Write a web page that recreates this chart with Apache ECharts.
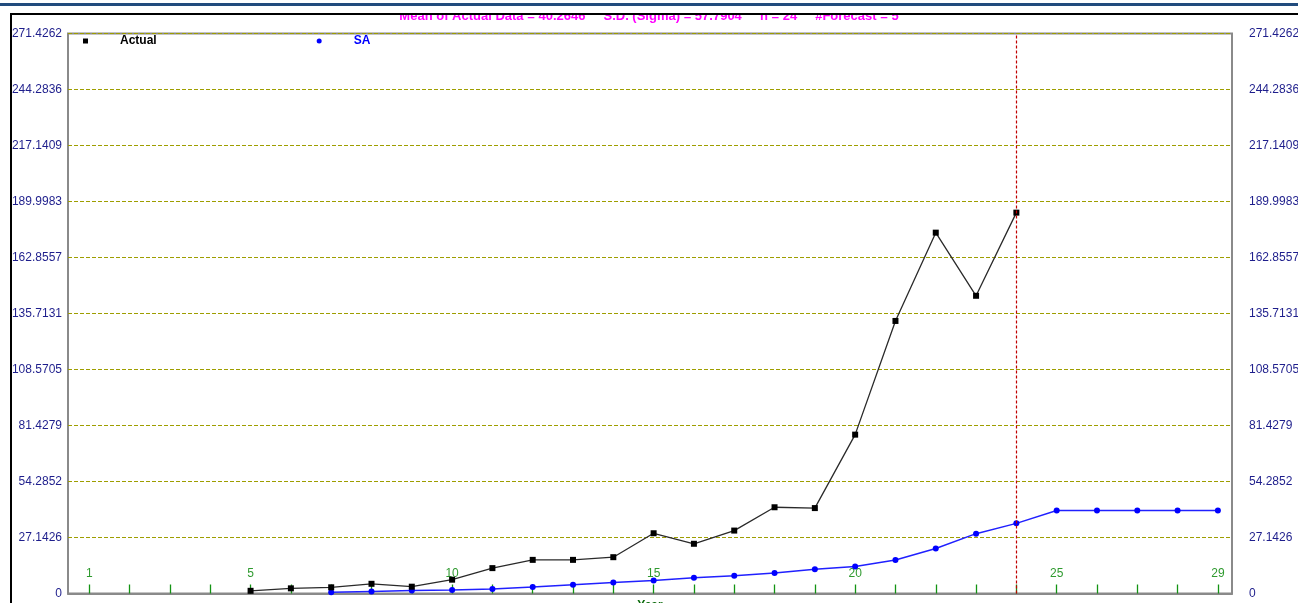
<!DOCTYPE html>
<html>
<head>
<meta charset="utf-8">
<title>Actual vs SA</title>
<script src="https://cdn.jsdelivr.net/npm/echarts@6/dist/echarts.min.js"></script>
<style>
  html, body { margin: 0; padding: 0; background: #ffffff; }
  #chart { width: 1298px; height: 603px; }
</style>
</head>
<body>
<div id="chart"></div>
<script>
// Year index for every period (24 observed + 5 forecast)
const years = [1, 2, 3, 4, 5, 6, 7, 8, 9, 10, 11, 12, 13, 14, 15, 16, 17, 18, 19, 20, 21, 22, 23, 24, 25, 26, 27, 28, 29];
// Observed values (first four periods have no plotted value)
const actualValues = [null, null, null, null, 1.3, 2.5, 3.0, 4.7, 3.3, 6.7, 12.3, 16.3, 16.3, 17.6, 29.2, 24.1, 30.5, 41.8, 41.4, 77.0, 132.1, 174.9, 144.3, 184.6];
// Simple-average forecast line
const saValues = [null, null, null, null, null, null, 0.6, 1.0, 1.4, 1.7, 2.2, 3.1, 4.3, 5.3, 6.3, 7.6, 8.6, 9.9, 11.8, 13.1, 16.2, 21.8, 29.0, 34.0, 40.2646, 40.2646, 40.2646, 40.2646, 40.2646];
// Labelled years on the horizontal axis
const xLabelYears = [1, 5, 10, 15, 20, 25, 29];
// Vertical axis tick labels (bottom to top)
const yTickLabels = ['0', '27.1426', '54.2852', '81.4279', '108.5705', '135.7131', '162.8557', '189.9983', '217.1409', '244.2836', '271.4262'];
const yMax = 271.42618;
const lastObservedYear = 24;
const titleText = 'Mean of Actual Data = 40.2646     S.D. (Sigma) = 57.7904     n = 24     #Forecast = 5';

const FONT = "'Liberation Sans', Arial, sans-serif";

const toPairs = (vals) => vals.map((v, i) => [years[i], v]);

const chart = echarts.init(document.getElementById('chart'), null, { renderer: 'canvas' });

const yAxisCommon = {
  type: 'value',
  min: 0,
  max: yMax,
  interval: yMax / 10,
  axisLine: { show: false },
  axisTick: { show: false },
  axisLabel: {
    color: '#1e1e8c',
    fontFamily: FONT,
    fontSize: 12,
    formatter: (v, idx) => yTickLabels[idx]
  }
};

chart.setOption({
  animation: false,
  backgroundColor: '#ffffff',
  title: {
    text: titleText,
    left: 'center',
    top: 10,
    padding: 0,
    textStyle: { color: '#ff00ff', fontFamily: FONT, fontSize: 13, fontWeight: 'bold' }
  },
  legend: {
    left: 78,
    top: 30,
    itemWidth: 5,
    itemHeight: 5,
    itemGap: 160,
    selectedMode: false,
    textStyle: { fontFamily: FONT, fontSize: 12, fontWeight: 'bold', padding: [0, 0, 0, 27] },
    data: [
      { name: 'Actual', icon: 'rect', itemStyle: { color: '#000000' }, textStyle: { color: '#000000' } },
      { name: 'SA', icon: 'circle', itemStyle: { color: '#0000ff' }, textStyle: { color: '#0000ff' } }
    ]
  },
  grid: {
    left: 68,
    right: 66,
    top: 33.5,
    bottom: 9.5,
    containLabel: false,
    outerBoundsMode: 'none',
    show: true,
    borderColor: '#8a8a8a',
    borderWidth: 2,
    backgroundColor: '#ffffff'
  },
  xAxis: {
    type: 'value',
    min: 0.47,
    max: 29.35,
    name: 'Year',
    nameLocation: 'middle',
    nameGap: 4,
    nameTextStyle: { color: '#0a6a0a', fontFamily: FONT, fontSize: 12, fontWeight: 'bold', verticalAlign: 'top' },
    splitLine: { show: false },
    axisLine: { show: true, lineStyle: { color: '#8a8a8a', width: 2 } },
    axisTick: {
      show: true,
      inside: true,
      length: 9,
      customValues: years,
      lineStyle: { color: '#139313', width: 1.3 }
    },
    axisLabel: {
      inside: true,
      margin: 14,
      color: '#2f9a2f',
      fontFamily: FONT,
      fontSize: 12,
      customValues: xLabelYears
    }
  },
  yAxis: [
    Object.assign({}, yAxisCommon, {
      position: 'left',
      axisLabel: Object.assign({}, yAxisCommon.axisLabel, { margin: 6 }),
      splitLine: { show: true, lineStyle: { color: '#9e9e00', type: [4, 2], width: 1 } }
    }),
    Object.assign({}, yAxisCommon, {
      position: 'right',
      axisLabel: Object.assign({}, yAxisCommon.axisLabel, { margin: 17, align: 'left' }),
      splitLine: { show: false }
    })
  ],
  series: [
    {
      name: 'Actual',
      type: 'line',
      data: toPairs(actualValues),
      symbol: 'rect',
      symbolSize: 6,
      showSymbol: true,
      connectNulls: false,
      lineStyle: { color: '#2a2a2a', width: 1.3 },
      itemStyle: { color: '#000000' },
      z: 4,
      markLine: {
        silent: true,
        symbol: ['none', 'none'],
        label: { show: false },
        itemStyle: { color: '#c00000' },
        lineStyle: { color: '#c00000', type: [3, 2], width: 1.2 },
        emphasis: { disabled: true },
        data: [{ xAxis: lastObservedYear, lineStyle: { color: '#c00000', type: [3, 2], width: 1.2 } }]
      }
    },
    {
      name: 'SA',
      type: 'line',
      data: toPairs(saValues),
      symbol: 'circle',
      symbolSize: 6,
      showSymbol: true,
      lineStyle: { color: '#2020ff', width: 1.5 },
      itemStyle: { color: '#0000ff' },
      z: 3
    }
  ],
  graphic: [
    { type: 'rect', z: 100, shape: { x: 0, y: 0, width: 1298, height: 13 }, style: { fill: '#ffffff' } },
    { type: 'rect', z: 101, shape: { x: 0, y: 3, width: 1298, height: 3 }, style: { fill: '#214b7d' } },
    { type: 'rect', z: 101, shape: { x: 10, y: 13, width: 1288, height: 2 }, style: { fill: '#000000' } },
    { type: 'rect', z: 101, shape: { x: 10, y: 13, width: 2, height: 590 }, style: { fill: '#000000' } }
  ]
});
</script>
</body>
</html>
